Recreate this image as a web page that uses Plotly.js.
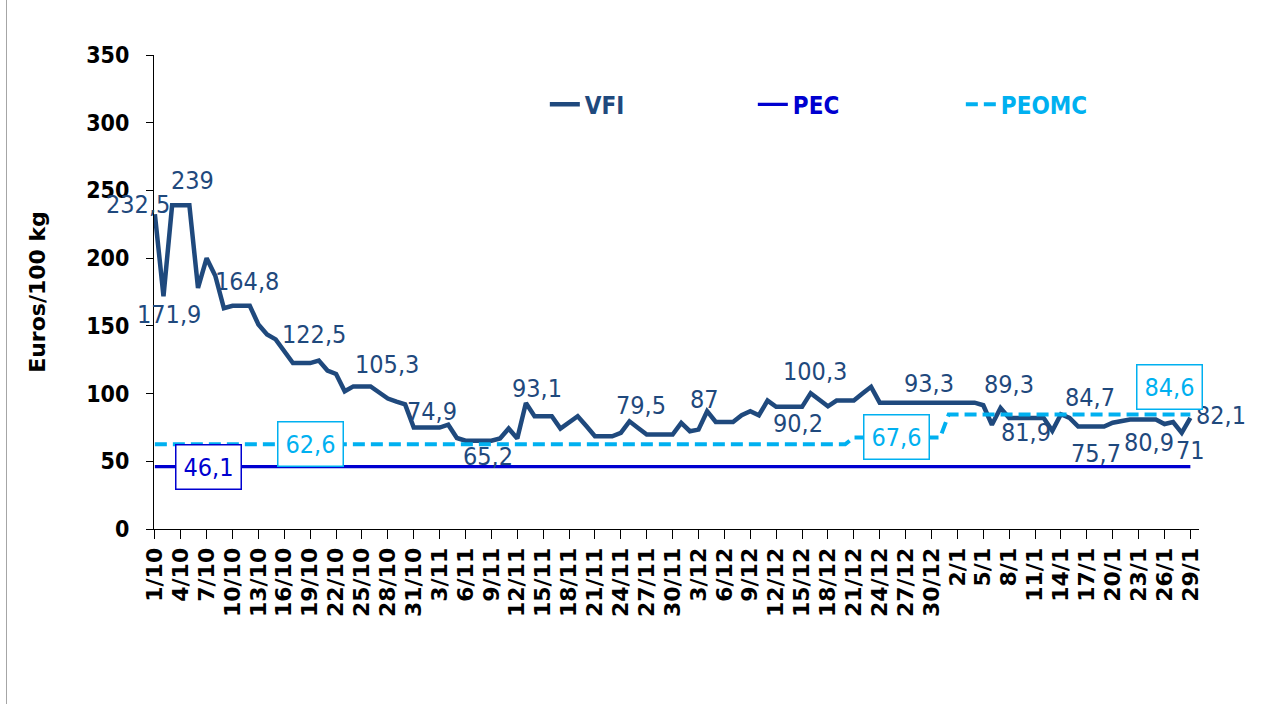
<!DOCTYPE html>
<html>
<head>
<meta charset="utf-8">
<script src="https://cdn.plot.ly/plotly-3.0.1.min.js"></script>
<style>
  html, body { margin: 0; padding: 0; background: #ffffff; }
  #wrap { position: relative; width: 1276px; height: 704px; }
  #chart { position: absolute; left: 0; top: 0; width: 1276px; height: 704px; }
  #frame { position: absolute; left: 6px; top: 0px; width: 1px; height: 704px; background: #a6a6a6; pointer-events: none; }
</style>
</head>
<body>
<div id="wrap"><div id="chart"></div><div id="frame"></div></div>
<script>
// Daily categories (1 Oct - 29 Jan)
const categories = [
 '1/10','2/10','3/10','4/10','5/10','6/10','7/10','8/10','9/10','10/10','11/10','12/10','13/10','14/10','15/10','16/10','17/10','18/10','19/10','20/10','21/10','22/10','23/10','24/10','25/10','26/10','27/10','28/10','29/10','30/10','31/10',
 '1/11','2/11','3/11','4/11','5/11','6/11','7/11','8/11','9/11','10/11','11/11','12/11','13/11','14/11','15/11','16/11','17/11','18/11','19/11','20/11','21/11','22/11','23/11','24/11','25/11','26/11','27/11','28/11','29/11','30/11',
 '1/12','2/12','3/12','4/12','5/12','6/12','7/12','8/12','9/12','10/12','11/12','12/12','13/12','14/12','15/12','16/12','17/12','18/12','19/12','20/12','21/12','22/12','23/12','24/12','25/12','26/12','27/12','28/12','29/12','30/12','31/12',
 '1/1','2/1','3/1','4/1','5/1','6/1','7/1','8/1','9/1','10/1','11/1','12/1','13/1','14/1','15/1','16/1','17/1','18/1','19/1','20/1','21/1','22/1','23/1','24/1','25/1','26/1','27/1','28/1','29/1'
];

const tickLabels = ['1/10','4/10','7/10','10/10','13/10','16/10','19/10','22/10','25/10','28/10','31/10',
 '3/11','6/11','9/11','12/11','15/11','18/11','21/11','24/11','27/11','30/11',
 '3/12','6/12','9/12','12/12','15/12','18/12','21/12','24/12','27/12','30/12',
 '2/1','5/1','8/1','11/1','14/1','17/1','20/1','23/1','26/1','29/1'];

// VFI (Euros/100 kg), one value per category
const vfi = [
 232.5,171.9,239,239,239,178,200,187,163,164.8,164.8,164.8,151,143.6,140,131,122.5,122.5,122.5,124.4,117,114.5,101.7,105.3,105.3,105.3,100.8,96.3,94,92,74.9,
 74.9,74.9,74.9,77,67.2,65.2,65.2,65.2,65.2,66.8,74.2,66.8,93.1,83.3,83.3,83.3,74.2,78.7,83.3,76,68.5,68.5,68.5,71,79.5,74.6,69.7,69.7,69.7,69.7,
 78.3,72.2,73.4,87,79,79,79,84,87,84,94.8,90.2,90.2,90.2,90.2,100.3,95.6,90.6,94.8,94.8,94.8,100,105,93.3,93.3,93.3,93.3,93.3,93.3,93.3,93.3,
 93.3,93.3,93.3,93.3,91.4,77,89.3,82,81.9,81.9,81.9,81.9,72.5,84.7,82,75.7,75.7,75.7,75.7,78.5,80,80.9,80.9,80.9,80.9,77.5,79,71,82.1
];

// PEC (constant reference price)
const pecDates = ['1/10','29/1'];
const pec = [46.1, 46.1];

// PEOMC (step reference price)
const peomcDates = ['1/10','20/12','21/12','31/12','1/1','29/1'];
const peomc = [62.6, 62.6, 67.6, 67.6, 84.6, 84.6];

// Dates whose VFI value is labelled
const vfiLabelDates = ['1/10','2/10','4/10','11/10','19/10','26/10','2/11','8/11','13/11','25/11','4/12','16/12','14/12','30/12','7/1','10/1','14/1','17/1','24/1','28/1','29/1'];

// Boxed reference labels
const boxLabelDates = ['7/10','19/10','26/12','26/1'];
const boxLabelSeries = ['PEC','PEOMC','PEOMC','PEOMC'];

// ---- styling (positions of labels, pixels) ----
const vfiLabelShift = [[-17,10],[6,-18],[12,25],[6,24],[4,29],[16,22],[1,16],[5,-16],[11,14],[12,16],[-3,12],[4,22],[5,-17],[-2,19],[8,24],[0,-14],[29,17],[9,-27],[2,-23],[9,-18],[31,2]];
const boxShift = [[2,0],[0,0],[0,0],[5,27]];

const C_VFI = '#1F497D', C_PEC = '#0000D0', C_PEOMC = '#00B0F0';
const NARROW = '"Liberation Sans Narrow", "DejaVu Sans Condensed", "Arial Narrow", sans-serif';
const WIDE = '"DejaVu Sans", Verdana, sans-serif';

function fmt(v) { return String(v).replace('.', ','); }
function peomcAt(d) {
  const i = categories.indexOf(d);
  let val = peomc[0];
  for (let k = 0; k < peomcDates.length; k++) {
    if (categories.indexOf(peomcDates[k]) <= i) val = peomc[k];
  }
  return val;
}

const traces = [
  { x: categories, y: vfi, type: 'scatter', mode: 'lines', name: '<span style="color:' + C_VFI + '">VFI</span>',
    line: { color: C_VFI, width: 4.5 }, hoverinfo: 'skip' },
  { x: pecDates, y: pec, type: 'scatter', mode: 'lines', name: '<span style="color:' + C_PEC + '">PEC</span>',
    line: { color: C_PEC, width: 3.2 }, hoverinfo: 'skip' },
  { x: peomcDates, y: peomc, type: 'scatter', mode: 'lines', name: '<span style="color:' + C_PEOMC + '">PEOMC</span>',
    line: { color: C_PEOMC, width: 4, dash: '12px,6px' }, hoverinfo: 'skip' }
];

const annotations = [];
vfiLabelDates.forEach((d, i) => {
  const v = vfi[categories.indexOf(d)];
  annotations.push({
    x: d, y: v, xref: 'x', yref: 'y', text: fmt(v), showarrow: false,
    xanchor: 'center', yanchor: 'middle', xshift: vfiLabelShift[i][0], yshift: vfiLabelShift[i][1],
    font: { family: NARROW, size: 25, color: C_VFI }
  });
});
boxLabelDates.forEach((d, i) => {
  const s = boxLabelSeries[i];
  const v = s === 'PEC' ? pec[0] : peomcAt(d);
  const col = s === 'PEC' ? C_PEC : C_PEOMC;
  annotations.push({
    x: d, y: v, xref: 'x', yref: 'y', text: fmt(v), showarrow: false,
    xanchor: 'center', yanchor: 'middle', xshift: boxShift[i][0], yshift: boxShift[i][1],
    font: { family: NARROW, size: 25, color: col },
    bgcolor: '#ffffff', bordercolor: col, borderwidth: 1.5, borderpad: 7
  });
});

const layout = {
  width: 1276, height: 704,
  margin: { l: 154, r: 77, t: 55, b: 175, pad: 0 },
  paper_bgcolor: '#ffffff', plot_bgcolor: '#ffffff',
  font: { family: NARROW, color: '#000000' },
  showlegend: true,
  legend: {
    orientation: 'h', x: 0.374, xanchor: 'left', y: 0.895, yanchor: 'middle',
    entrywidth: 163, entrywidthmode: 'pixels',
    font: { family: NARROW, size: 24, weight: 'bold' },
    bgcolor: 'rgba(0,0,0,0)'
  },
  xaxis: {
    type: 'category', categoryorder: 'array', categoryarray: categories,
    range: [-0.1, 121], tickmode: 'array', tickvals: tickLabels, ticktext: tickLabels,
    tickangle: -90, ticks: 'outside', ticklen: 9, tickcolor: '#000', tickwidth: 1,
    showline: true, linecolor: '#000', linewidth: 1, showgrid: false, zeroline: false,
    tickfont: { family: WIDE, size: 22, color: '#000', weight: 'bold' }
  },
  yaxis: {
    range: [0, 350], tickmode: 'linear', tick0: 0, dtick: 50,
    ticks: 'outside', ticklen: 7, tickcolor: '#000', tickwidth: 1, ticklabelstandoff: 12,
    showline: true, linecolor: '#000', linewidth: 1, showgrid: false, zeroline: false,
    tickfont: { family: NARROW, size: 23, color: '#000', weight: 'bold' },
    title: { text: 'Euros/100 kg', standoff: 34, font: { family: WIDE, size: 22, color: '#000', weight: 'bold' } }
  },
  annotations: annotations,
  hovermode: false
};

Plotly.newPlot('chart', traces, layout, { displayModeBar: false, staticPlot: true });
</script>
</body>
</html>
